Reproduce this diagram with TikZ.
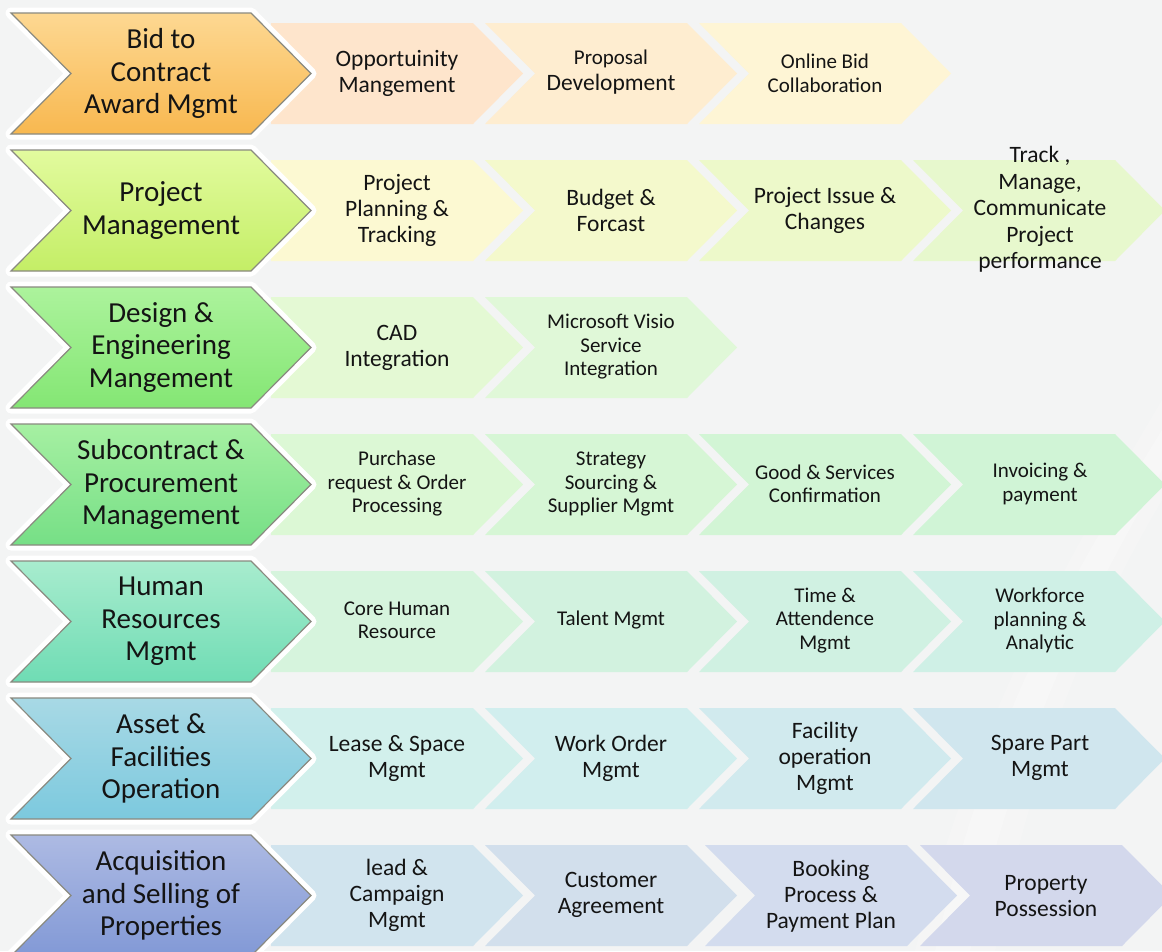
\documentclass[tikz,border=0pt]{standalone}
\usepackage{fontspec}
\setmainfont{Carlito}
\definecolor{bg}{HTML}{F3F4F4}
\definecolor{mainline}{HTML}{8A8A80}
\definecolor{txt}{HTML}{141414}
% main chevron gradients
\definecolor{a1}{HTML}{FDD892}\definecolor{b1}{HTML}{F8B850}
\definecolor{a2}{HTML}{E2FB9E}\definecolor{b2}{HTML}{C4EE66}
\definecolor{a3}{HTML}{ACF39C}\definecolor{b3}{HTML}{84E674}
\definecolor{a4}{HTML}{A6F0A2}\definecolor{b4}{HTML}{76DF86}
\definecolor{a5}{HTML}{A8ECCE}\definecolor{b5}{HTML}{6FDCB4}
\definecolor{a6}{HTML}{A8D9E5}\definecolor{b6}{HTML}{7CC9DE}
\definecolor{a7}{HTML}{ADBAE3}\definecolor{b7}{HTML}{8299D6}
% sub chevron fills
\definecolor{s11}{HTML}{FEE5CC}\definecolor{s12}{HTML}{FEEDD0}\definecolor{s13}{HTML}{FEF5D5}
\definecolor{s21}{HTML}{FCF9D2}\definecolor{s22}{HTML}{F4F9CC}\definecolor{s23}{HTML}{EDF9CA}\definecolor{s24}{HTML}{E7F8CD}
\definecolor{s31}{HTML}{E4F9D4}\definecolor{s32}{HTML}{E0F8D8}
\definecolor{s41}{HTML}{DCF8D5}\definecolor{s42}{HTML}{D6F6D5}\definecolor{s43}{HTML}{D2F5D5}\definecolor{s44}{HTML}{D0F4D6}
\definecolor{s51}{HTML}{D6F4DD}\definecolor{s52}{HTML}{D2F2DF}\definecolor{s53}{HTML}{D0F1E2}\definecolor{s54}{HTML}{CFF0E6}
\definecolor{s61}{HTML}{D2F0EC}\definecolor{s62}{HTML}{D1EEEE}\definecolor{s63}{HTML}{D1EAEE}\definecolor{s64}{HTML}{D0E6EE}
\definecolor{s71}{HTML}{D1E4EE}\definecolor{s72}{HTML}{D2DFEC}\definecolor{s73}{HTML}{D3DCEE}\definecolor{s74}{HTML}{D3D8EC}
\newcommand\mainlbl{\fontsize{29}{32.5}\selectfont}
\newcommand\sublbl{\fontsize{23.5}{26}\selectfont}
\newcommand\smalllbl{\fontsize{21}{23.5}\selectfont}
\tikzset{
  mainglow/.style={draw=white, line width=11pt, line join=round},
  mainshape/.style={draw=mainline, line width=1.2pt, line join=miter},
  maintext/.style={align=center, text=txt, font=\mainlbl, inner sep=0pt},
  subtext/.style={align=center, text=txt, font=\sublbl, inner sep=0pt},
  smalltext/.style={align=center, text=txt, font=\smalllbl, inner sep=0pt},
}
% main chevron: #1 top y, #2 top colour, #3 bottom colour
\newcommand\mainchev[3]{%
  \path[mainglow] (11,#1) -- ++(240,0) -- ++(60,60.5) -- ++(-60,60.5) -- ++(-240,0) -- ++(60,-60.5) -- cycle;
  \path[mainshape, top color=#2, bottom color=#3] (11,#1) -- ++(240,0) -- ++(60,60.5) -- ++(-60,60.5) -- ++(-240,0) -- ++(60,-60.5) -- cycle;}
% first sub shape (flat left): #1 left x, #2 top y, #3 colour
\newcommand\subhome[3]{%
  \fill[#3] (#1,#2) -- ++(202,0) -- ++(50,50.5) -- ++(-50,50.5) -- ++(-202,0) -- cycle;}
% later sub chevron
\newcommand\subchev[3]{%
  \fill[#3] (#1,#2) -- ++(202,0) -- ++(50,50.5) -- ++(-50,50.5) -- ++(-202,0) -- ++(50,-50.5) -- cycle;}
\begin{document}
\begin{tikzpicture}[x=1pt,y=-1pt]
\fill[bg] (0,0) rectangle (1162,951);
\useasboundingbox (0,0) rectangle (1162,951);
% faint swoosh
\fill[white,opacity=0.18] (1162,400) .. controls (1080,540) and (980,700) .. (915,951) -- (995,951) .. controls (1040,720) and (1115,580) .. (1162,500) -- cycle;
\fill[white,opacity=0.22] (1162,430) .. controls (1088,550) and (990,705) .. (935,951) -- (970,951) .. controls (1020,715) and (1105,575) .. (1162,470) -- cycle;

% ---------- row 1
\subhome{271}{23}{s11}
\subchev{485}{23}{s12}
\subchev{699}{23}{s13}
\mainchev{13}{a1}{b1}
\node[maintext] (m1) at (161,73.5) {Bid to\\Contract\\Award Mgmt};
\node[subtext] (n11) at (397,73.5) {Opportuinity\\Mangement};
\node[subtext] (n12) at (611,72.5) {{\smalllbl Proposal}\\Development};
\node[smalltext] (n13) at (825,73.5) {Online Bid\\Collaboration};

% ---------- row 2
\subhome{271}{160}{s21}
\subchev{485}{160}{s22}
\subchev{699}{160}{s23}
\subchev{913}{160}{s24}
\mainchev{150}{a2}{b2}
\node[maintext] (m2) at (161,210.5) {Project\\Management};
\node[subtext] (n21) at (397,210.5) {Project\\Planning \&\\Tracking};
\node[subtext] (n22) at (611,210.5) {Budget \&\\Forcast};
\node[subtext] (n23) at (825,210.5) {Project Issue \&\\Changes};
\node[subtext, font=\fontsize{23.5}{26.5}\selectfont] (n24) at (1040,209.5) {Track ,\\Manage,\\Communicate\\Project\\performance};

% ---------- row 3
\subhome{271}{297}{s31}
\subchev{485}{297}{s32}
\mainchev{287}{a3}{b3}
\node[maintext] (m3) at (161,347.5) {Design \&\\Engineering\\Mangement};
\node[subtext] (n31) at (397,347.5) {CAD\\Integration};
\node[smalltext] (n32) at (611,347) {Microsoft Visio\\Service\\Integration};

% ---------- row 4
\subhome{271}{434}{s41}
\subchev{485}{434}{s42}
\subchev{699}{434}{s43}
\subchev{913}{434}{s44}
\mainchev{424}{a4}{b4}
\node[maintext] (m4) at (161,484.5) {Subcontract \&\\Procurement\\Management};
\node[smalltext] (n41) at (397,484) {Purchase\\request \& Order\\Processing};
\node[smalltext] (n42) at (611,484) {Strategy\\Sourcing \&\\Supplier Mgmt};
\node[smalltext] (n43) at (825,484) {Good \& Services\\Confirmation};
\node[smalltext] (n44) at (1040,484) {Invoicing \&\\payment};

% ---------- row 5
\subhome{271}{571}{s51}
\subchev{485}{571}{s52}
\subchev{699}{571}{s53}
\subchev{913}{571}{s54}
\mainchev{561}{a5}{b5}
\node[maintext] (m5) at (161,621.5) {Human\\Resources\\Mgmt};
\node[smalltext] (n51) at (397,620.5) {Core Human\\Resource};
\node[smalltext] (n52) at (611,620.5) {Talent Mgmt};
\node[smalltext] (n53) at (825,620.5) {Time \&\\Attendence\\Mgmt};
\node[smalltext] (n54) at (1040,620.5) {Workforce\\planning \&\\Analytic};

% ---------- row 6
\subhome{271}{708}{s61}
\subchev{485}{708}{s62}
\subchev{699}{708}{s63}
\subchev{913}{708}{s64}
\mainchev{698}{a6}{b6}
\node[maintext] (m6) at (161,758.5) {Asset \&\\Facilities\\Operation};
\node[subtext] (n61) at (397,758) {Lease \& Space\\Mgmt};
\node[subtext] (n62) at (611,758) {Work Order\\Mgmt};
\node[subtext] (n63) at (825,758) {Facility\\operation\\Mgmt};
\node[subtext] (n64) at (1040,758) {Spare Part\\Mgmt};

% ---------- row 7
\subhome{271}{845}{s71}
\subchev{485}{845}{s72}
\subchev{705}{845}{s73}
\subchev{920}{845}{s74}
\mainchev{835}{a7}{b7}
\node[maintext] (m7) at (161,895.5) {Acquisition\\and Selling of\\Properties};
\node[subtext] (n71) at (397,895) {lead \&\\Campaign\\Mgmt};
\node[subtext] (n72) at (611,895) {Customer\\Agreement};
\node[subtext] (n73) at (831,896.5) {Booking\\Process \&\\Payment Plan};
\node[subtext] (n74) at (1046,896.5) {Property\\Possession};
\end{tikzpicture}
\end{document}
